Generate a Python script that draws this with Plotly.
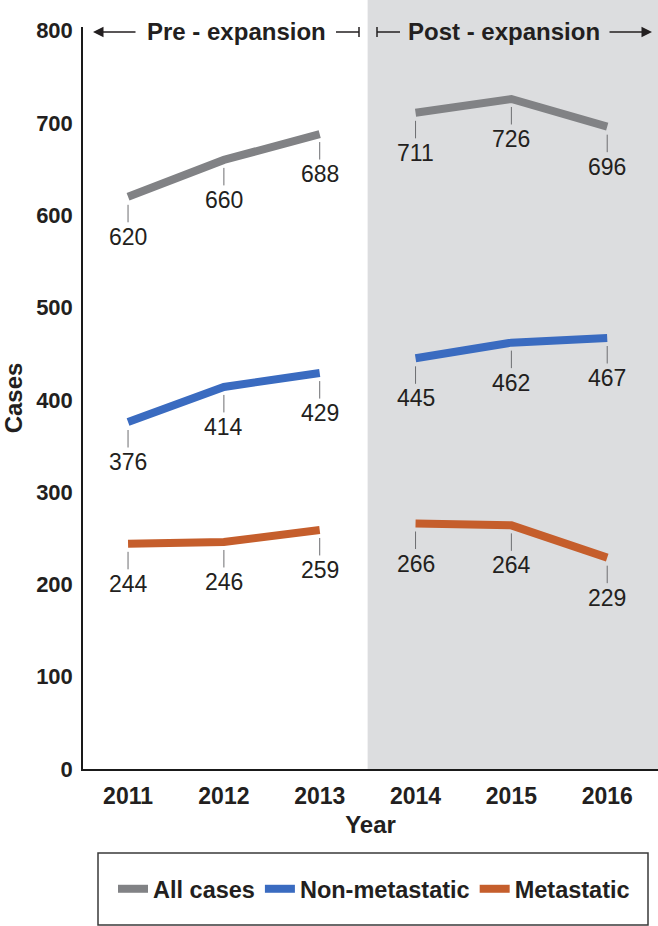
import plotly.graph_objects as go

# ---- data ----
years = [2011, 2012, 2013, 2014, 2015, 2016]
all_cases = [620, 660, 688, 711, 726, 696]
non_metastatic = [376, 414, 429, 445, 462, 467]
metastatic = [244, 246, 259, 266, 264, 229]
series_names = ["All cases", "Non-metastatic", "Metastatic"]
period_labels = ["Pre - expansion", "Post - expansion"]
first_post_year = 2014
y_ticks = [0, 100, 200, 300, 400, 500, 600, 700, 800]

# ---- style ----
W, H = 658, 926
L, R, T, B = 83, 0, 27, 157
XR = [2010.53, 2016.53]
YR = [0, 804]
FONT = "Liberation Sans, Arial, sans-serif"
colors = ["#818285", "#3a6bc0", "#c55e2c"]
TXT = "#231f20"


def px(x):
    return (x - L) / (W - L - R)


def py(y):
    return (H - B - y) / (H - T - B)


fig = go.Figure()

split = years.index(first_post_year)
for name, vals, col in zip(series_names, [all_cases, non_metastatic, metastatic], colors):
    xs = years[:split] + [None] + years[split:]
    ys = vals[:split] + [None] + vals[split:]
    fig.add_trace(go.Scatter(x=xs, y=ys, mode="lines", name=name,
                             line=dict(color=col, width=8), connectgaps=False,
                             hoverinfo="skip"))

annotations = []
for vals in [all_cases, non_metastatic, metastatic]:
    for x, v in zip(years, vals):
        annotations.append(dict(x=x, y=v, xref="x", yref="y", text=str(v),
                                showarrow=True, arrowhead=0, arrowwidth=1,
                                arrowcolor="#6d6e71", ax=0, ay=40, standoff=8,
                                font=dict(size=23, color=TXT, family=FONT)))

# period headings
annotations.append(dict(xref="paper", yref="paper", x=px(236), y=py(32), text=period_labels[0],
                        showarrow=False, xanchor="center", yanchor="middle",
                        font=dict(size=24, color=TXT, family=FONT, weight="bold")))
annotations.append(dict(xref="paper", yref="paper", x=px(504), y=py(32), text=period_labels[1],
                        showarrow=False, xanchor="center", yanchor="middle",
                        font=dict(size=24, color=TXT, family=FONT, weight="bold")))
# arrows
annotations.append(dict(xref="paper", yref="paper", x=px(93), y=py(32), text="",
                        showarrow=True, arrowhead=2, arrowsize=1.4, arrowwidth=1.5,
                        arrowcolor=TXT, axref="pixel", ayref="pixel", ax=44, ay=0))
annotations.append(dict(xref="paper", yref="paper", x=px(652), y=py(32), text="",
                        showarrow=True, arrowhead=2, arrowsize=1.4, arrowwidth=1.5,
                        arrowcolor=TXT, axref="pixel", ayref="pixel", ax=-44, ay=0))

shapes = [
    dict(type="rect", xref="x", yref="paper", x0=first_post_year - 0.5, x1=XR[1],
         y0=0, y1=1.2, fillcolor="#dcdddf", line=dict(width=0), layer="below"),
    dict(type="line", xref="paper", yref="paper", x0=px(336), x1=px(359), y0=py(32), y1=py(32),
         line=dict(color=TXT, width=1.5)),
    dict(type="line", xref="paper", yref="paper", x0=px(359), x1=px(359), y0=py(27), y1=py(37),
         line=dict(color=TXT, width=1.5)),
    dict(type="line", xref="paper", yref="paper", x0=px(377), x1=px(377), y0=py(27), y1=py(37),
         line=dict(color=TXT, width=1.5)),
    dict(type="line", xref="paper", yref="paper", x0=px(377), x1=px(400), y0=py(32), y1=py(32),
         line=dict(color=TXT, width=1.5)),
    dict(type="rect", xref="paper", yref="paper", x0=px(98), x1=px(648), y0=py(853), y1=py(925),
         line=dict(color="#3a3a3a", width=1.5), fillcolor="rgba(0,0,0,0)"),
]

fig.update_layout(
    width=W, height=H,
    margin=dict(l=L, r=R, t=T, b=B, autoexpand=False),
    paper_bgcolor="white", plot_bgcolor="rgba(0,0,0,0)",
    font=dict(family=FONT, color=TXT),
    showlegend=True,
    legend=dict(orientation="h", x=px(374), xanchor="center", y=py(889), yanchor="middle",
                font=dict(size=23.5, color=TXT, family=FONT, weight="bold"), bgcolor="rgba(0,0,0,0)",
                itemwidth=30, traceorder="normal"),
    annotations=annotations,
    shapes=shapes,
    xaxis=dict(range=XR, tickvals=years, ticktext=[str(y) for y in years],
               showgrid=False, zeroline=False, showline=True, linecolor="#1a1a1a", linewidth=2,
               ticks="", ticklabelstandoff=5,
               tickfont=dict(size=23, color=TXT, family=FONT, weight="bold"),
               title=dict(text="Year", font=dict(size=24, color=TXT, family=FONT, weight="bold"),
                          standoff=9)),
    yaxis=dict(range=YR, tickvals=y_ticks, ticktext=[str(v) for v in y_ticks],
               showgrid=False, zeroline=False, showline=True, linecolor="#1a1a1a", linewidth=1.5,
               ticks="", ticklabelstandoff=4,
               tickfont=dict(size=22, color=TXT, family=FONT, weight="bold"),
               title=dict(text="Cases", font=dict(size=24, color=TXT, family=FONT, weight="bold"),
                          standoff=14)),
)

fig.write_html("out.html", config={"displayModeBar": False},
               post_script="document.body.style.margin='0';document.body.style.overflow='hidden';")
